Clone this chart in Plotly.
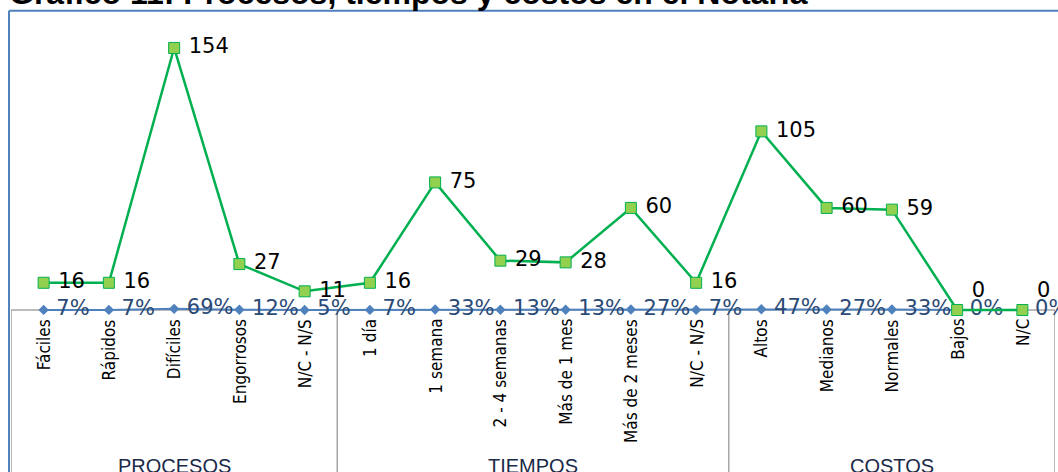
import plotly.graph_objects as go

categories = ["Fáciles", "Rápidos", "Difíciles", "Engorrosos", "N/C - N/S",
              "1 día", "1 semana", "2 - 4 semanas", "Más de 1 mes", "Más de 2 meses", "N/C - N/S",
              "Altos", "Medianos", "Normales", "Bajos", "N/C"]
groups = ["PROCESOS", "TIEMPOS", "COSTOS"]
group_sizes = [5, 6, 5]
counts = [16, 16, 154, 27, 11, 16, 75, 29, 28, 60, 16, 105, 60, 59, 0, 0]
percents = [0.07, 0.07, 0.69, 0.12, 0.05, 0.07, 0.33, 0.13, 0.13, 0.27, 0.07, 0.47, 0.27, 0.33, 0.0, 0.0]
title_text = "Gráfico 11: Procesos, tiempos y costos en el Notaría"

xs = list(range(len(categories)))
pct_labels = [f" {round(p*100)}%" for p in percents]
count_labels = [f" {c}" for c in counts]
count_pos = ["top right" if c == 0 else "middle right" for c in counts]

fig = go.Figure()
fig.add_trace(go.Scatter(
    x=xs, y=percents, mode="lines+markers+text",
    line=dict(color="#4F81BD", width=2),
    marker=dict(symbol="diamond", size=8, color="#4F81BD"),
    text=pct_labels, textposition="middle right",
    textfont=dict(family="DejaVu Sans", size=21, color="#2B4A75"),
    cliponaxis=False, showlegend=False))
fig.add_trace(go.Scatter(
    x=xs, y=counts, mode="lines+markers+text",
    line=dict(color="#00B050", width=2.5),
    marker=dict(symbol="square", size=11, color="#92D050", line=dict(color="#00B050", width=1)),
    text=count_labels, textposition=count_pos,
    textfont=dict(family="DejaVu Sans", size=21, color="#000000"),
    cliponaxis=False, showlegend=False))

ann = []
for i, c in enumerate(categories):
    ann.append(dict(x=i, y=0, xref="x", yref="y", text=c, textangle=-90,
                    showarrow=False, xanchor="center", yanchor="top", yshift=-7,
                    font=dict(family="Liberation Sans Narrow, DejaVu Sans Condensed, sans-serif", size=17, color="#000000")))

shapes = []
start = -0.5
shapes.append(dict(type="line", xref="x", yref="y", x0=-0.5, x1=len(categories) - 0.5, y0=0, y1=0,
                   line=dict(color="#A6A6A6", width=1.5), layer="below"))
shapes.append(dict(type="line", xref="x", yref="y", x0=start, x1=start, y0=0, y1=-120,
                   line=dict(color="#A6A6A6", width=1.5), layer="below"))
for g, n in zip(groups, group_sizes):
    end = start + n
    shapes.append(dict(type="line", xref="x", yref="y", x0=end, x1=end, y0=0, y1=-120,
                       line=dict(color="#A6A6A6", width=1.5), layer="below"))
    ann.append(dict(x=(start + end) / 2, y=-91.5, xref="x", yref="y", text=g, showarrow=False,
                    xanchor="center", yanchor="middle",
                    font=dict(family="Liberation Sans, sans-serif", size=20, color="#1A2A48")))
    start = end

# outer frame (blue)
shapes.append(dict(type="line", xref="paper", yref="paper", x0=-0.0019, x1=1.01, y0=0.977, y1=0.977,
                   line=dict(color="#4F81BD", width=2)))
shapes.append(dict(type="line", xref="paper", yref="paper", x0=-0.0019, x1=-0.0019, y0=-0.05, y1=0.977,
                   line=dict(color="#4F81BD", width=2)))

ann.append(dict(x=0, y=1, xref="paper", yref="paper", text="<b>" + title_text + "</b>",
                showarrow=False, xanchor="left", yanchor="middle", xshift=-4, yshift=7,
                font=dict(family="Liberation Sans, Arial, sans-serif", size=32, color="#000000")))

fig.update_layout(
    width=1058, height=472,
    margin=dict(l=11, r=3, t=0, b=0),
    paper_bgcolor="white", plot_bgcolor="white",
    xaxis=dict(range=[-0.5, 15.5], visible=False, fixedrange=True),
    yaxis=dict(range=[-95.2, 182.2], visible=False, fixedrange=True),
    annotations=ann, shapes=shapes,
)
fig.write_html("out.html", config={"displayModeBar": False},
               post_script="document.body.style.margin='0';document.body.style.overflow='hidden';")
